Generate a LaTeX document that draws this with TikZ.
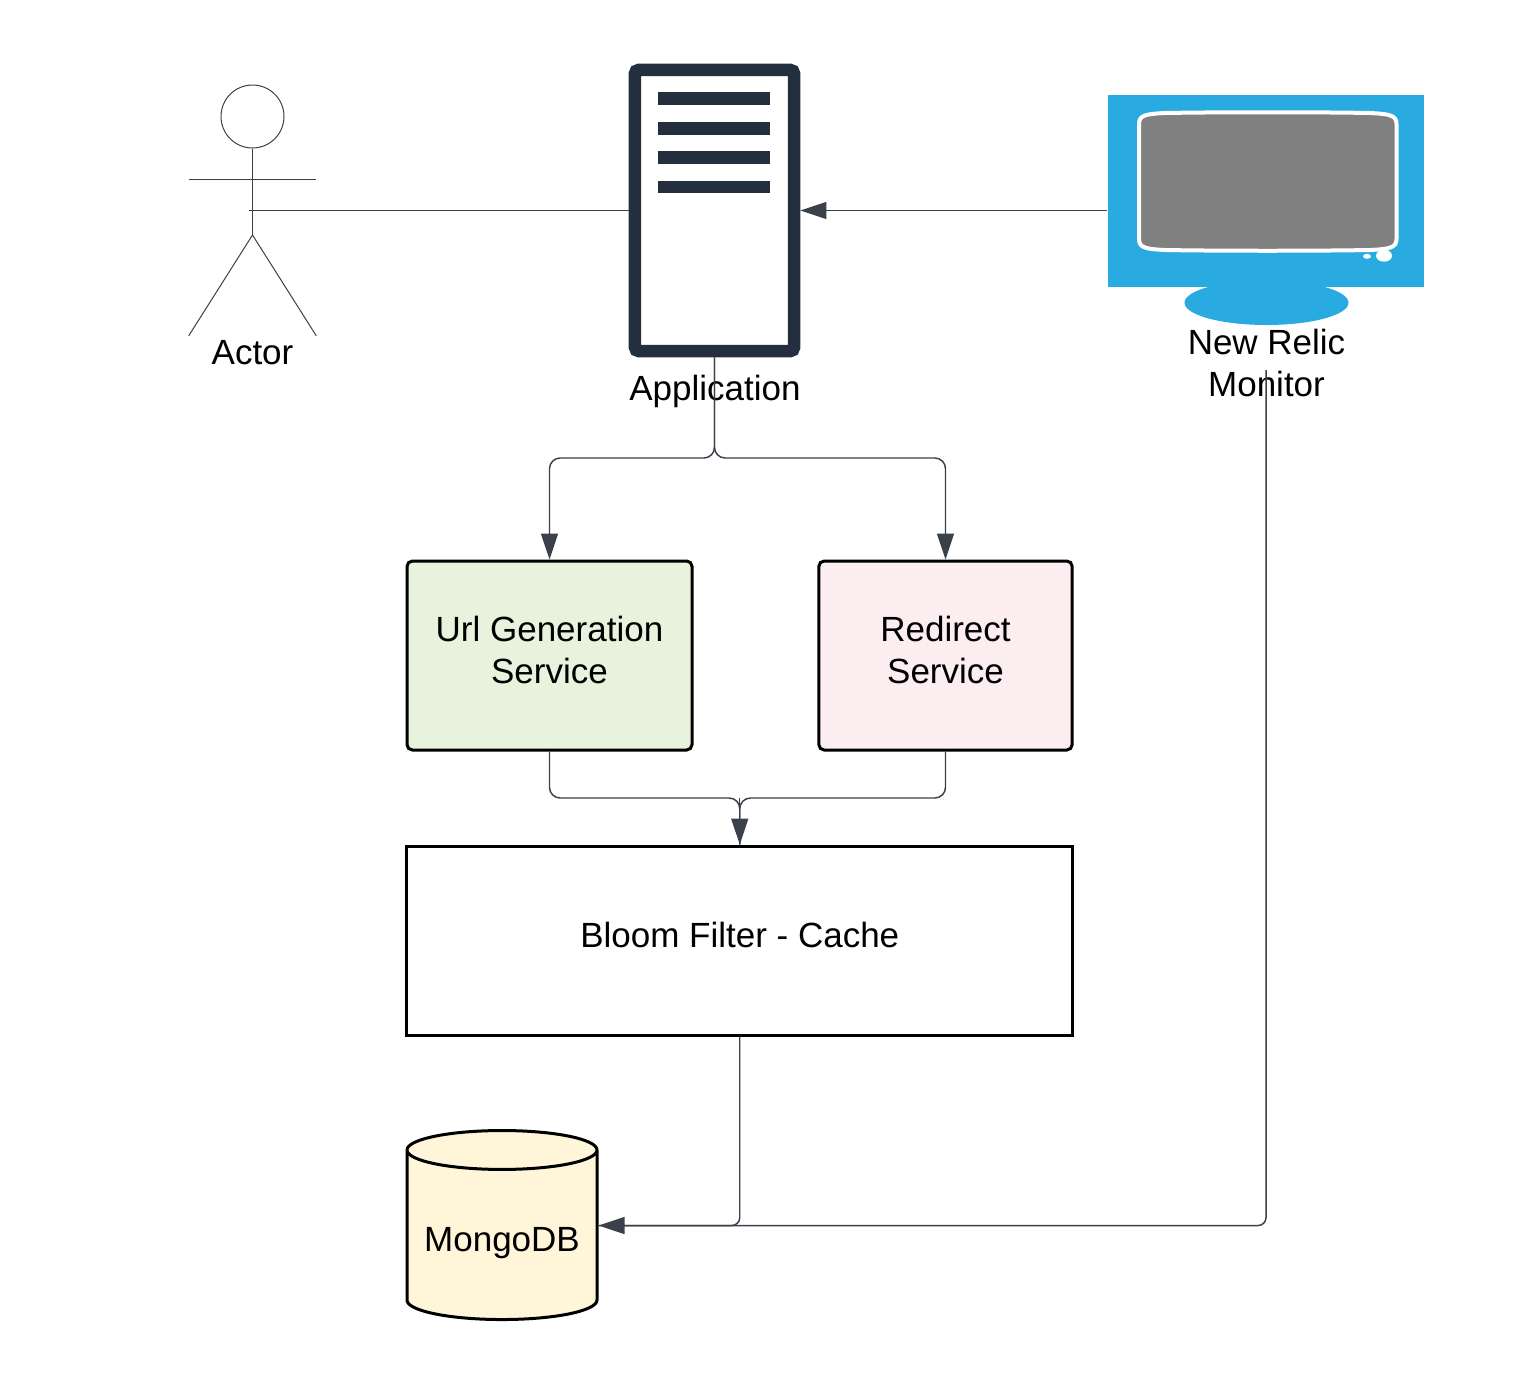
\documentclass[tikz,border=0pt]{standalone}
\usepackage{fontspec}
\setmainfont{Liberation Sans}
\usetikzlibrary{arrows.meta,shapes.geometric}
\definecolor{linegray}{HTML}{3A414A}
\definecolor{serverblue}{HTML}{232F3E}
\definecolor{screenblue}{HTML}{29ABE2}
\definecolor{urlgreen}{HTML}{E7F3DD}
\definecolor{redirectpink}{HTML}{FCEEF0}
\definecolor{mongoyellow}{HTML}{FFF6DA}
\tikzset{
    every node/.style={font=\fontsize{26.25}{31.5}\selectfont, align=center, inner sep=0pt},
    service/.style={draw=black, line width=2.25pt, rounded corners=4pt, minimum height=141.75pt, text depth=9pt},
    conn/.style={draw=linegray, line width=1.1pt},
    flow/.style={conn, -{Triangle[length=19.5pt,width=12.75pt]}},
    thin conn/.style={draw=linegray, line width=0.75pt}
}
\begin{document}
\begin{tikzpicture}[x=0.75pt, y=-0.75pt]
\useasboundingbox (0,0) rectangle (1537,1385);

% actor
\node[minimum width=95.25pt, minimum height=187.5pt] (actor) at (252.5,210.5) {};
\node[circle, thin conn, minimum size=47.25pt] (actorhead) at (252.5,116.5) {};
\coordinate (actorhip) at (252.5,235);
\draw[thin conn] (actorhead.south) -- (actorhip);
\draw[thin conn] (actor.north west |- 0,179) -- (actor.north east |- 0,179);
\draw[thin conn] (actor.south west) -- (actorhip) -- (actor.south east);
\node (actorlabel) at (252.5,353) {Actor};
\coordinate (actorhand) at (249,210.5);

% application
\node[draw=serverblue, fill=white, line width=9.3pt, rounded corners=3pt,
      minimum width=119.5pt, minimum height=211pt] (application) at (714.5,210.5) {};
\foreach \bary in {98.5,128.3,157.6,186.8}
    \fill[serverblue] (658.3,\bary-6.3) rectangle (770.3,\bary+6.3);
\node (applabel) at (715,391) {Application};

% monitor
\node[minimum width=237.5pt, minimum height=172.5pt] (monitor) at (1266,210.5) {};
\fill[screenblue] (1266.5,302.7) ellipse (82 and 22.3);
\fill[screenblue] (1107.7,95.4) rectangle (1424.3,287.3);
\draw[draw=white, fill=gray, line width=3pt]
    (1139,124) .. controls (1139,115) and (1146,114) .. (1165,113)
    .. controls (1220,112) and (1315,112) .. (1370,113)
    .. controls (1389,114) and (1396.5,115) .. (1396.5,124)
    -- (1396.5,239) .. controls (1396.5,248) and (1389,249) .. (1370,250)
    .. controls (1315,251) and (1220,251) .. (1165,250)
    .. controls (1146,249) and (1139,248) .. (1139,239) -- cycle;
\fill[white] (1384,255.7) ellipse (8 and 6);
\fill[white] (1367,256.3) ellipse (4 and 2.5);
\node (monitorlabel) at (1266.5,363) {New Relic\\Monitor};
\coordinate (monitorcable) at (1266,370);

% services
\node[service, fill=urlgreen, minimum width=213.75pt] (urlgen) at (549.5,655.5) {Url Generation\\Service};
\node[service, fill=redirectpink, minimum width=190pt] (redirect) at (945.5,655.5) {Redirect\\Service};
\node[draw=black, line width=2.25pt, text depth=9pt, minimum width=499.5pt, minimum height=141.75pt] (bloom) at (739.75,940.5) {Bloom Filter - Cache};
\node[cylinder, shape border rotate=90, aspect=0.25, draw=black, line width=2.25pt, text height=30pt,
      cylinder uses custom fill, cylinder body fill=mongoyellow, cylinder end fill=mongoyellow,
      minimum width=142.5pt, minimum height=141.75pt] (mongodb) at (502,1235.5) {MongoDB};

% connectors
\coordinate (appjoin) at (714.5,458);
\coordinate (cachejoin) at (739.75,798);
\coordinate (mongojoin) at (739.75,1225.5);
\coordinate (monitorturn) at (1266,1225.5);
\draw[thin conn] (actorhand) -- (application.west);
\draw[flow] (monitor.west) -- (application.east);
\draw[flow, rounded corners=8pt] (application.south) -- (appjoin) -| (urlgen.north);
\draw[flow, rounded corners=8pt] (application.south) -- (appjoin) -| (redirect.north);
\draw[conn, rounded corners=8pt] (urlgen.south) |- (cachejoin) -- (bloom.north);
\draw[conn, rounded corners=8pt] (redirect.south) |- (cachejoin) -- (bloom.north);
\draw[flow] (cachejoin) -- (bloom.north);
\draw[conn, rounded corners=6pt] (bloom.south) -- (mongojoin) -- (mongodb.east |- mongojoin);
\draw[flow, rounded corners=6pt] (monitorcable) -- (monitorturn) -- (mongodb.east |- monitorturn);
\end{tikzpicture}
\end{document}
